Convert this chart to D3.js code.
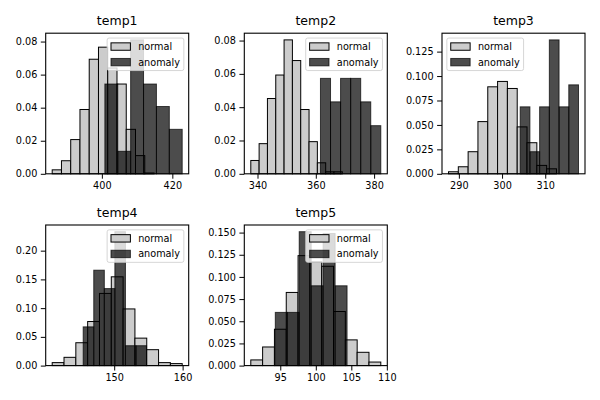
<!DOCTYPE html>
<html>
<head>
<meta charset="utf-8">
<script src="https://cdn.jsdelivr.net/npm/d3@7"></script>
<style>
  body { margin: 0; background: #fff; }
  svg { display: block; font-family: "DejaVu Sans", sans-serif; }
</style>
</head>
<body>
<div id="chart"></div>
<script>
// panel titles
const titles = ["temp1", "temp2", "temp3", "temp4", "temp5"];

// first and last bin edge of each histogram (equal-width bins)
const normalRange = [[385.9, 414.8], [337.7, 369.1], [287.6, 312.6], [140.94, 159.94], [90.85, 109.15]];
const anomalyRange = [[400.85, 422.8], [361.6, 382.3], [304.2, 317.7], [145.47, 154.73], [94.3, 104.4]];

// density of each bin
const normalDensity = [
    [0.0024, 0.0079, 0.0207, 0.0389, 0.0693, 0.0766, 0.064, 0.0543, 0.0269, 0.011, 0.0005],
    [0.008, 0.0181, 0.0452, 0.0593, 0.0804, 0.068, 0.0386, 0.0193, 0.0066, 0.0012, 0.0012],
    [0.0021, 0.0072, 0.0226, 0.0534, 0.089, 0.0945, 0.0873, 0.048, 0.0318, 0.0086, 0.0051],
    [0.0052, 0.0144, 0.0398, 0.0767, 0.1256, 0.1545, 0.0986, 0.0478, 0.0277, 0.0052, 0.0035],
    [0.0064, 0.021, 0.041, 0.0825, 0.124, 0.117, 0.112, 0.061, 0.029, 0.015, 0.004]
];
const anomalyDensity = [
    [0.0543, 0.0136, 0.081, 0.0543, 0.0407, 0.0269],
    [0.0573, 0.0432, 0.0573, 0.0573, 0.0432, 0.0289],
    [0.0685, 0.0226, 0.0685, 0.137, 0.0685, 0.091],
    [0.0674, 0.166, 0.134, 0.233, 0.0346, 0.0346],
    [0.06, 0.06, 0.151, 0.09, 0.149, 0.09]
];

// tick values
const xTicks = [[400, 420], [340, 360, 380], [290, 300, 310], [150, 160], [95, 100, 105, 110]];
const yTicks = [
    [0, 0.02, 0.04, 0.06, 0.08],
    [0, 0.02, 0.04, 0.06, 0.08],
    [0, 0.025, 0.05, 0.075, 0.1, 0.125],
    [0, 0.05, 0.1, 0.15, 0.2],
    [0, 0.025, 0.05, 0.075, 0.1, 0.125, 0.15]
];
const yFormats = [".2f", ".2f", ".3f", ".2f", ".3f"];
const legendSide = ["right", "right", "left", "right", "right"];
const legendLabels = ["normal", "anomaly"];

// layout of the panels (pixels)
const panelPos = [[45.7, 33.2], [244.3, 33.2], [442, 33.2], [45.7, 225], [244.3, 225]];
const pw = 143, ph = 140.6;
const tickFont = 9.7, titleFont = 12.5, legendFont = 9.7;

const normalFill = "#cccccc";
const anomalyFill = "#000000", anomalyAlpha = 0.7;

const svg = d3.select("#chart").append("svg")
    .attr("width", 600)
    .attr("height", 400);

svg.append("rect").attr("width", 600).attr("height", 400).attr("fill", "#fff");

// turn a range + densities into bin objects
function makeBins(range, dens) {
    const w = (range[1] - range[0]) / dens.length;
    return dens.map((d, i) => ({ x0: range[0] + i * w, x1: range[0] + (i + 1) * w, h: d }));
}

titles.forEach((title, k) => {
    const [left, top] = panelPos[k];
    const g = svg.append("g").attr("transform", "translate(" + left + "," + top + ")");

    const nBins = makeBins(normalRange[k], normalDensity[k]);
    const aBins = makeBins(anomalyRange[k], anomalyDensity[k]);

    // matplotlib style 5% margins on x, 5% headroom on y
    const lo = Math.min(normalRange[k][0], anomalyRange[k][0]);
    const hi = Math.max(normalRange[k][1], anomalyRange[k][1]);
    const pad = (hi - lo) * 0.05;
    const x = d3.scaleLinear().domain([lo - pad, hi + pad]).range([0, pw]);
    const ymax = d3.max(nBins.concat(aBins), d => d.h) * 1.05;
    const y = d3.scaleLinear().domain([0, ymax]).range([ph, 0]);

    // normal histogram
    g.selectAll(".nbar")
        .data(nBins)
        .enter().append("rect")
        .attr("class", "nbar")
        .attr("x", d => x(d.x0))
        .attr("y", d => y(d.h))
        .attr("width", d => x(d.x1) - x(d.x0))
        .attr("height", d => y(0) - y(d.h))
        .attr("fill", normalFill)
        .attr("stroke", "#000")
        .attr("stroke-width", 1);

    // anomaly histogram
    g.selectAll(".abar")
        .data(aBins)
        .enter().append("rect")
        .attr("class", "abar")
        .attr("x", d => x(d.x0))
        .attr("y", d => y(d.h))
        .attr("width", d => x(d.x1) - x(d.x0))
        .attr("height", d => y(0) - y(d.h))
        .attr("fill", anomalyFill)
        .attr("fill-opacity", anomalyAlpha)
        .attr("stroke", "#000")
        .attr("stroke-opacity", anomalyAlpha)
        .attr("stroke-width", 1);

    // axes
    const xAxis = g.append("g")
        .attr("transform", "translate(0," + ph + ")")
        .call(d3.axisBottom(x).tickValues(xTicks[k]).tickSize(4.9).tickPadding(3.5).tickFormat(d3.format("d")));
    const yAxis = g.append("g")
        .call(d3.axisLeft(y).tickValues(yTicks[k]).tickSize(4.9).tickPadding(3.5).tickFormat(d3.format(yFormats[k])));
    [xAxis, yAxis].forEach(a => {
        a.select(".domain").remove();
        a.selectAll("line").attr("stroke", "#000").attr("stroke-width", 1);
        a.selectAll("text")
            .attr("fill", "#000")
            .style("font-size", tickFont + "px")
            .style("font-family", "DejaVu Sans");
    });

    // frame
    g.append("rect")
        .attr("width", pw)
        .attr("height", ph)
        .attr("fill", "none")
        .attr("stroke", "#000")
        .attr("stroke-width", 1.1);

    // title
    g.append("text")
        .attr("x", pw / 2)
        .attr("y", -8)
        .attr("text-anchor", "middle")
        .style("font-size", titleFont + "px")
        .text(title);

    // legend
    const f = legendFont;
    const lg = g.append("g");
    const box = lg.append("rect");
    const labels = legendLabels.map((lab, i) => lg.append("text")
        .attr("y", 8.5 + i * 15.6)
        .attr("dy", "0.35em")
        .style("font-size", f + "px")
        .text(lab));
    const textW = d3.max(labels, t => t.node().getComputedTextLength());
    const boxW = 0.4 * f + 2 * f + 0.8 * f + textW + 0.4 * f;
    const boxH = 32.5;
    labels.forEach(t => t.attr("x", 0.4 * f + 2.8 * f));
    legendLabels.forEach((lab, i) => {
        const r = lg.append("rect")
            .attr("x", 0.4 * f)
            .attr("y", 8.5 + i * 15.6 - 3.7)
            .attr("width", 2 * f)
            .attr("height", 7.4)
            .attr("stroke", "#000")
            .attr("stroke-width", 1);
        if (i === 0) r.attr("fill", normalFill);
        else r.attr("fill", anomalyFill).attr("fill-opacity", anomalyAlpha).attr("stroke-opacity", anomalyAlpha);
    });
    box.attr("width", boxW)
        .attr("height", boxH)
        .attr("rx", 2)
        .attr("fill", "#fff")
        .attr("fill-opacity", 0.8)
        .attr("stroke", "#ccc")
        .attr("stroke-opacity", 0.8)
        .attr("stroke-width", 1);
    const lx = legendSide[k] === "right" ? pw - 0.5 * f - boxW : 0.5 * f;
    lg.attr("transform", "translate(" + lx + "," + (0.5 * f) + ")");
});
</script>
</body>
</html>
